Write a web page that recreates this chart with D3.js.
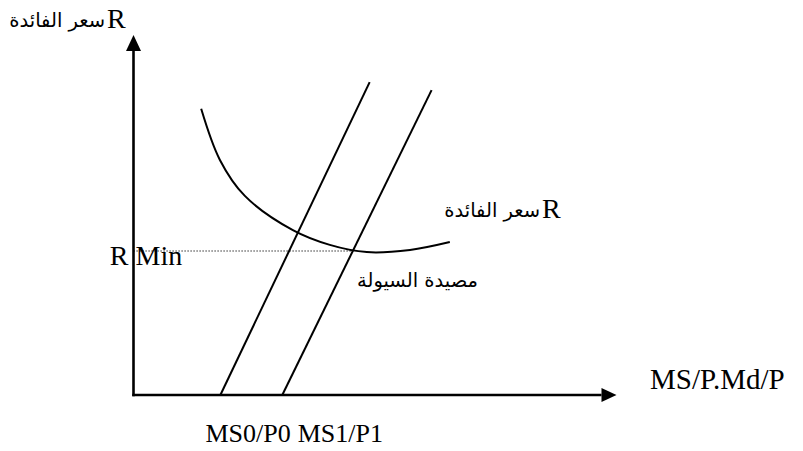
<!DOCTYPE html>
<html>
<head>
<meta charset="utf-8">
<script src="https://cdn.jsdelivr.net/npm/d3@7"></script>
<style>
  html, body { margin: 0; padding: 0; background: #fff; }
  svg { display: block; }
  .lat { font-family: "Liberation Serif", "Times New Roman", serif; fill: #000; }
  .ar { font-family: "DejaVu Sans", "Noto Sans", sans-serif; fill: #000; }
</style>
</head>
<body>
<svg id="chart" width="803" height="451"></svg>
<script>
// Liquidity trap diagram: money supply shifts (MS0/P0 -> MS1/P1) against
// a money-demand curve that flattens out at the minimum interest rate.

// Axis labels
const yAxisTitle = "سعر الفائدة";
const xAxisTitle = "MS/P.Md/P";
const curveTitle = "سعر الفائدة";
const trapTitle = "مصيدة السيولة";
const rMinLabel = "R Min";

// Money supply lines (real balances on x, interest rate on y)
const supplyLabels = ["MS0/P0", "MS1/P1"];
const supply0 = [[18.1, 0], [49.2, 86.9]];
const supply1 = [[31.0, 0], [62.1, 84.7]];

// Money demand curve
const demandX = [14.1, 18.0, 23.2, 33.2, 40.9, 48.6, 57.6, 65.9];
const demandR = [79.5, 65.3, 55.3, 45.8, 41.7, 39.7, 40.3, 42.5];

// Minimum interest rate and where it meets the shifted supply line
const rMin = 40;
const rMinEndX = 45.6;

const svg = d3.select("#chart");

const x = d3.scaleLinear().domain([0, 100]).range([133.5, 613.5]);
const y = d3.scaleLinear().domain([0, 100]).range([395, 35]);

// Axes with arrowheads
const x0 = x(0), y0 = y(0);
svg.append("line")
  .attr("x1", x0).attr("y1", y0 + 1.2).attr("x2", x0).attr("y2", y(100) + 14)
  .attr("stroke", "#000").attr("stroke-width", 2.6);
svg.append("line")
  .attr("x1", x0 - 1.2).attr("y1", y0).attr("x2", x(100) - 12).attr("y2", y0)
  .attr("stroke", "#000").attr("stroke-width", 2.6);

const tipY = y(100), tipX = x(100) + 3;
svg.append("path")
  .attr("d", `M${x0},${tipY} L${x0 - 7.5},${tipY + 16} L${x0 + 7.5},${tipY + 16} Z`)
  .attr("fill", "#000");
svg.append("path")
  .attr("d", `M${tipX},${y0} L${tipX - 15},${y0 - 7} L${tipX - 15},${y0 + 7} Z`)
  .attr("fill", "#000");

// Dotted minimum-rate guide
svg.append("line")
  .attr("x1", x0).attr("y1", y(rMin)).attr("x2", x(rMinEndX)).attr("y2", y(rMin))
  .attr("stroke", "#000").attr("stroke-width", 1.1)
  .attr("stroke-dasharray", "1.2,1.8");

// Money supply lines
const line = d3.line().x(d => x(d[0])).y(d => y(d[1]));
[supply0, supply1].forEach(s => {
  svg.append("path")
    .attr("d", line(s))
    .attr("fill", "none").attr("stroke", "#000").attr("stroke-width", 2);
});

// Money demand curve
const demand = demandX.map((v, i) => [v, demandR[i]]);
svg.append("path")
  .attr("d", line.curve(d3.curveCatmullRom.alpha(0.5))(demand))
  .attr("fill", "none").attr("stroke", "#000").attr("stroke-width", 2);

// Text
const lat = (t, px, py, size) => svg.append("text")
  .attr("class", "lat").attr("x", px).attr("y", py)
  .attr("font-size", size).text(t);
const ar = (t, px, py, size) => svg.append("text")
  .attr("class", "ar").attr("x", px).attr("y", py)
  .attr("font-size", size).attr("text-anchor", "end").text(t);

// vertical axis title
lat("R", 107, 28, 28);
ar(yAxisTitle, 105, 27, 19.5);

// horizontal axis title
lat(xAxisTitle, 650, 389, 29);

// demand curve title
lat("R", 542, 218, 28);
ar(curveTitle, 540, 217, 19.5);

// liquidity trap label
ar(trapTitle, 478, 287, 19.5);

// minimum rate label
const rMinText = lat(rMinLabel, 0, 265, 28);
const spaceW = rMinText.node().getSubStringLength(0, 2);
rMinText.attr("x", x0 + 2 - spaceW);

// supply labels under the horizontal axis, set on one line
let cursor = x(supply0[0][0]) - 15;
supplyLabels.forEach(t => {
  const el = lat(t, cursor, 442, 26);
  cursor += el.node().getComputedTextLength() + 7;
});
</script>
</body>
</html>
